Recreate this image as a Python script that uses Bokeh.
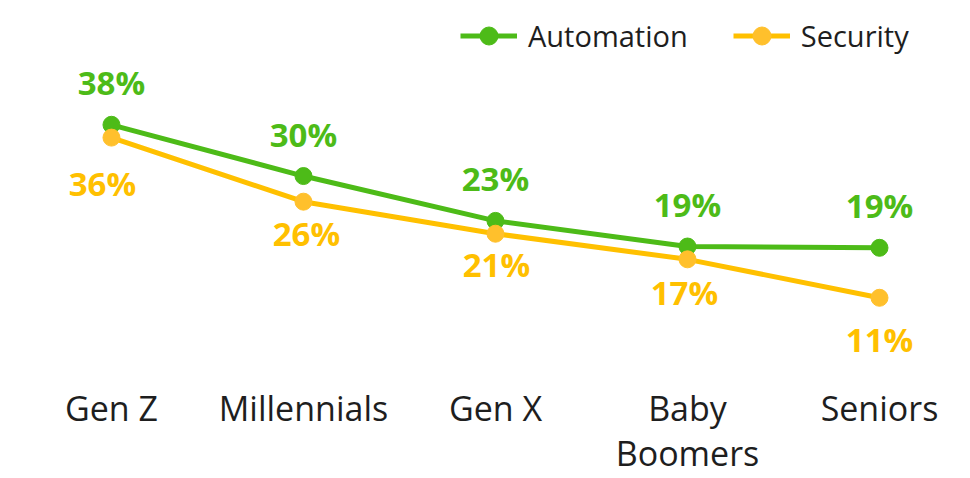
from bokeh.plotting import figure
from bokeh.models import Range1d, FixedTicker, ColumnDataSource, Legend, LegendItem
from bokeh.core.properties import value
from bokeh.embed import file_html
from bokeh.resources import INLINE

categories = ["Gen Z", "Millennials", "Gen X", "Baby Boomers", "Seniors"]
tick_labels = ["Gen Z", "Millennials", "Gen X", "Baby\nBoomers", "Seniors"]
automation = [38, 30, 23, 19, 18.8]
security = [36, 26, 21, 17, 11]

GREEN = "#4dbb18"
YELLOW = "#ffc000"
YELLOW_PT = "#ffc02c"
FONT = "Open Sans"

xs = list(range(len(categories)))

p = figure(width=970, height=478, output_backend="svg", toolbar_location=None,
           x_range=Range1d(-0.578, 4.474), y_range=Range1d(-1.6, 57.4),
           min_border_left=0, min_border_right=0, min_border_top=0)
p.outline_line_color = None
p.grid.visible = False
p.yaxis.visible = False
p.background_fill_color = "white"
p.border_fill_color = "white"

ax = p.xaxis[0]
ax.ticker = FixedTicker(ticks=xs)
ax.major_label_overrides = {i: t for i, t in enumerate(tick_labels)}
ax.axis_line_color = None
ax.major_tick_line_color = None
ax.minor_tick_line_color = None
ax.major_label_text_font = FONT
ax.major_label_text_font_size = "34px"
ax.major_label_text_color = "#1e1e1e"
ax.major_label_text_line_height = 0.98
ax.major_label_standoff = 0

src_a = ColumnDataSource(dict(x=xs, y=automation, lab=[f"{round(v)}%" for v in automation]))
src_s = ColumnDataSource(dict(x=xs, y=security, lab=[f"{round(v)}%" for v in security],
                              dy=[46, 32, 31, 33, 42], dx=[-9, 3, 1, -3, 0]))

la = p.line("x", "y", source=src_a, line_color=GREEN, line_width=5)
ca = p.scatter("x", "y", source=src_a, size=17, fill_color=GREEN, line_color=GREEN)
ls = p.line("x", "y", source=src_s, line_color=YELLOW, line_width=5)
cs = p.scatter("x", "y", source=src_s, size=17, fill_color=YELLOW_PT, line_color=YELLOW_PT)

p.text("x", "y", text="lab", source=src_a, text_align="center", text_baseline="middle",
       y_offset=-42, text_font=value(FONT), text_font_style="bold",
       text_font_size="33px", text_color=GREEN)
p.text("x", "y", text="lab", source=src_s, text_align="center", text_baseline="middle",
       y_offset="dy", x_offset="dx", text_font=value(FONT), text_font_style="bold",
       text_font_size="33px", text_color=YELLOW)

legend = Legend(items=[LegendItem(label="Automation", renderers=[la, ca]),
                       LegendItem(label="Security", renderers=[ls, cs])],
                orientation="horizontal", location=(460, 320),
                padding=0, margin=0, spacing=45, glyph_width=57, glyph_height=45,
                label_standoff=11, label_text_font=FONT, label_text_font_size="29px",
                label_text_color="#1e1e1e", border_line_color=None,
                background_fill_alpha=0)
p.add_layout(legend)

open("out.html", "w").write(file_html(p, INLINE))
